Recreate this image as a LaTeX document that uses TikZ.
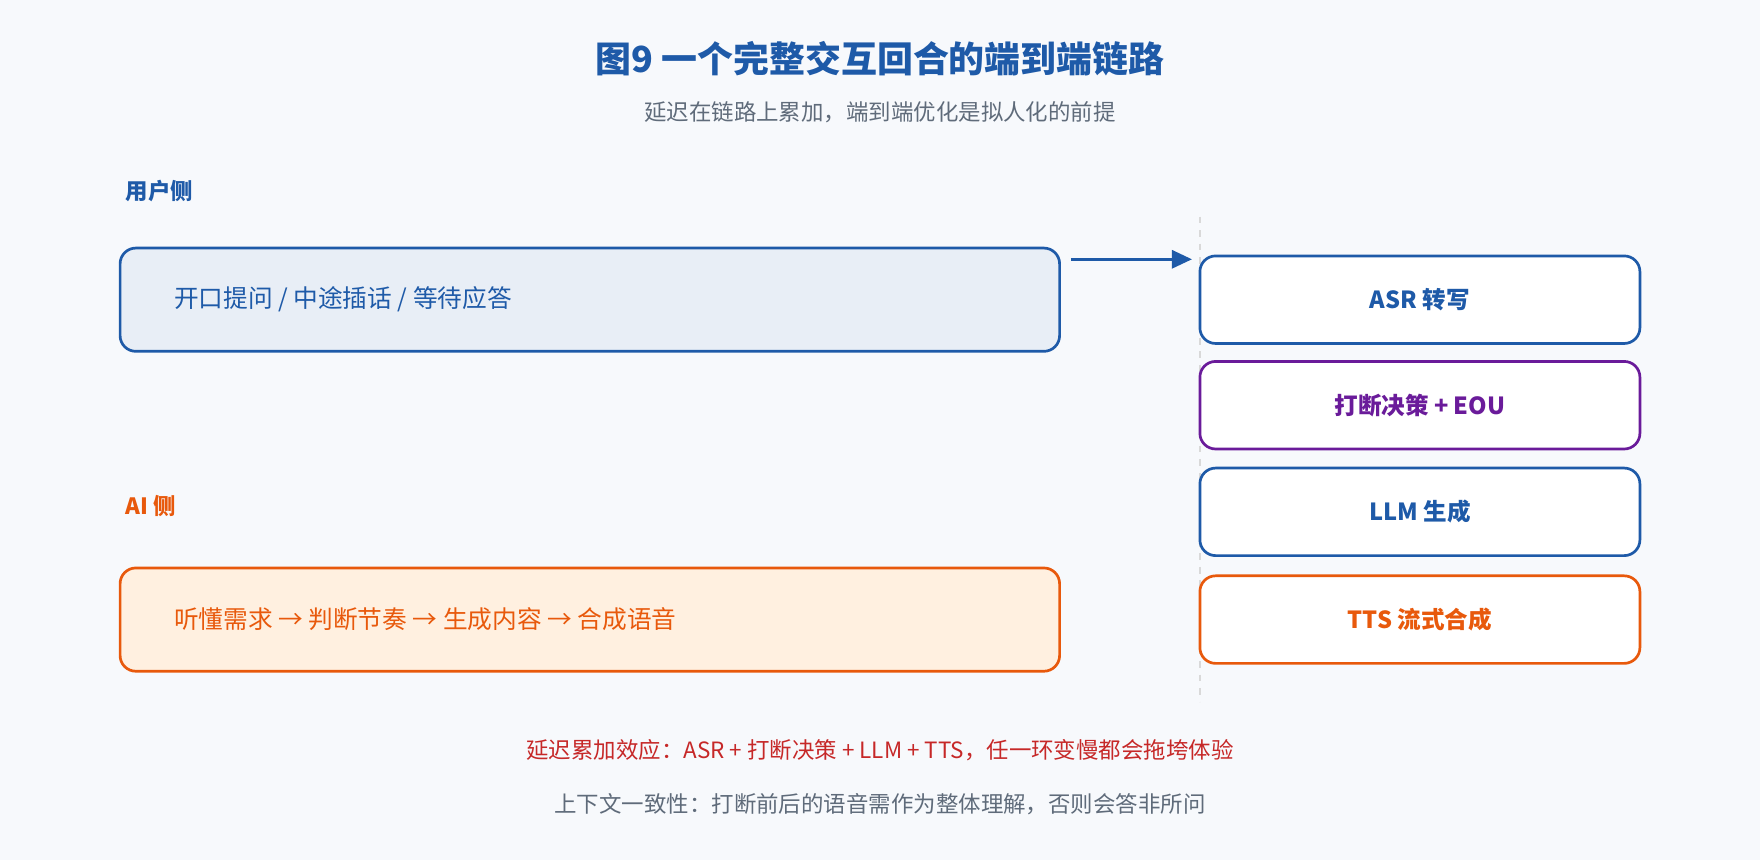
\documentclass[tikz,border=0pt]{standalone}
\usepackage{fontspec}
\setmainfont{Noto Sans CJK SC}
\usetikzlibrary{positioning,arrows.meta}
\definecolor{bluec}{HTML}{1E5AA8}
\definecolor{orangec}{HTML}{E8590C}
\definecolor{purplec}{HTML}{6A1B9A}
\definecolor{redc}{HTML}{C62828}
\definecolor{grayc}{HTML}{5F6B7A}
\definecolor{bgc}{HTML}{F7F9FC}
\tikzset{
  side/.style={draw,line width=1.2pt,rounded corners=7pt,minimum width=418.5pt,
    minimum height=46pt,inner sep=0pt},
  stage/.style={draw,line width=1.2pt,rounded corners=7pt,fill=white,minimum width=196pt,
    minimum height=39pt,font=\bfseries\fontsize{10.5}{12}\selectfont},
  head/.style={anchor=west,font=\bfseries\fontsize{10}{12}\selectfont}
}
\begin{document}
\begin{tikzpicture}[x=0.5pt,y=-0.5pt]
\fill[bgc] (0,0) rectangle (1568,766);
\useasboundingbox (0,0) rectangle (1568,766);

  \node[text=bluec,font=\bfseries\fontsize{16}{18}\selectfont] (title) at (784,52) {图9 一个完整交互回合的端到端链路};
  \node[text=grayc,font=\fontsize{10}{12}\selectfont] (sub) at (784,100) {延迟在链路上累加，端到端优化是拟人化的前提};

  \node[head,text=bluec] (userlbl) at (105,170) {用户侧};
  \node[side,draw=bluec,fill=bluec!10] (user) at (525.5,267) {};
  \node[anchor=west,text=bluec,font=\fontsize{11}{13}\selectfont] (usertxt) at (148,267) {开口提问 / 中途插话 / 等待应答};

  \node[head,text=orangec] (ailbl) at (105,451) {AI 侧};
  \node[side,draw=orangec,fill=orange!12] (ai) at (525.5,552) {};
  \node[anchor=west,text=orangec,font=\fontsize{11}{13}\selectfont] (aitxt) at (148,552) {听懂需求 → 判断节奏 → 生成内容 → 合成语音};

  \draw[gray!30,dashed,line width=1pt] (1069,193) -- (1069,625);

  \node[stage,draw=bluec,text=bluec] (asr) at (1265,267) {ASR 转写};
  \node[stage,draw=purplec,text=purplec] (eou) at (1265,361) {打断决策 + EOU};
  \node[stage,draw=bluec,text=bluec] (llm) at (1265,456) {LLM 生成};
  \node[stage,draw=orangec,text=orangec] (tts) at (1265,552) {TTS 流式合成};

  \coordinate (ustart) at (954,231);
  \coordinate (uend) at (1062,231);
  \draw[bluec,line width=1.5pt,-{Triangle[length=9pt,width=8pt]}] (ustart) -- (uend);

  \node[text=redc,font=\fontsize{10}{12}\selectfont] (note1) at (784,668) {延迟累加效应：ASR + 打断决策 + LLM + TTS，任一环变慢都会拖垮体验};
  \node[text=grayc,font=\fontsize{10}{12}\selectfont] (note2) at (784,716) {上下文一致性：打断前后的语音需作为整体理解，否则会答非所问};
\end{tikzpicture}
\end{document}
